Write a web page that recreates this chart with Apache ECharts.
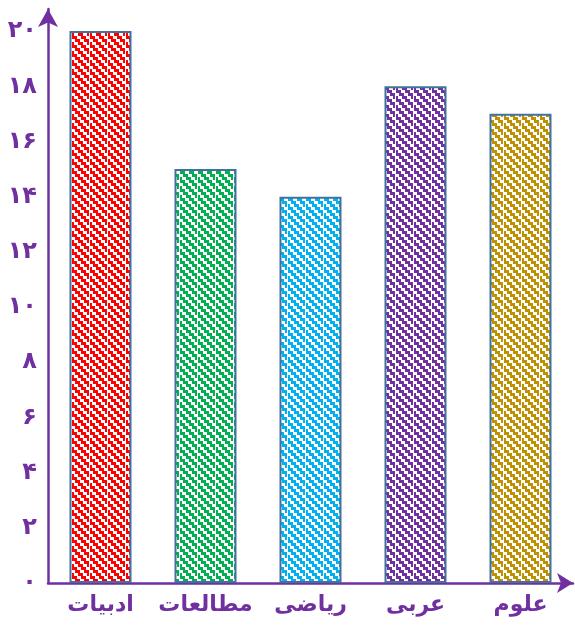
<!DOCTYPE html>
<html><head><meta charset="utf-8">
<script src="https://cdn.jsdelivr.net/npm/echarts@6/dist/echarts.min.js"></script>
<style>html,body{margin:0;padding:0;background:#fff}#c{width:575px;height:625px}</style>
</head><body><div id="c"></div>
<script>
const categories = ['ادبیات', 'مطالعات', 'ریاضی', 'عربی', 'علوم'];
const values = [20, 15, 14, 18, 17];
const barColors = ['#FF0000', '#00B050', '#00B0F0', '#7030A0', '#BF9000'];
const yTicks = [0, 2, 4, 6, 8, 10, 12, 14, 16, 18, 20];

function toFa(n){ return String(n).replace(/[0-9]/g, d => '۰۱۲۳۴۵۶۷۸۹'[+d]); }

function makePattern(color){
  const c = document.createElement('canvas');
  c.width = 18; c.height = 9;
  const ctx = c.getContext('2d');
  ctx.fillStyle = '#fff'; ctx.fillRect(0,0,18,9);
  ctx.fillStyle = color;
  for (let y = 0; y < 9; y++) for (let x = 0; x < 18; x++) {
    const k = ((x - 3*Math.floor(y/3)) % 9 + 9) % 9;
    if (k < 5 && x !== 17) ctx.fillRect(x, y, 1, 1);
  }
  return c;
}

const chart = echarts.init(document.getElementById('c'), null, {renderer:'canvas'});
const purple = '#7030A0';
chart.setOption({
  animation: false,
  grid: {left: 48, right: 2, top: 9, bottom: 42, containLabel: false},
  xAxis: {
    type: 'category', data: categories,
    axisLine: {show: true, symbol: ['none','arrow'], symbolSize: [15, 16], lineStyle: {color: purple, width: 2.5}},
    axisTick: {show: false},
    axisLabel: {interval: 0, color: purple, fontFamily: 'DejaVu Sans', fontWeight: 'bold', fontSize: 22, margin: 11}
  },
  yAxis: {
    type: 'value', min: 0, max: 20.8, interval: 2,
    axisLine: {show: true, symbol: ['none','arrow'], symbolSize: [15, 18], lineStyle: {color: purple, width: 2.5}},
    axisTick: {show: false},
    splitLine: {show: false},
    axisLabel: {color: purple, fontFamily: 'DejaVu Sans', fontWeight: 'bold', fontSize: 24, margin: 11,
      formatter: v => (yTicks.indexOf(v) >= 0 ? toFa(v) : ''), showMaxLabel: false}
  },
  series: [{
    type: 'bar', barWidth: 62,
    data: values.map((v, i) => ({value: v, itemStyle: {color: {image: makePattern(barColors[i]), repeat: 'repeat'}, borderColor: '#41719C', borderWidth: 2}}))
  }]
});
</script></body></html>
